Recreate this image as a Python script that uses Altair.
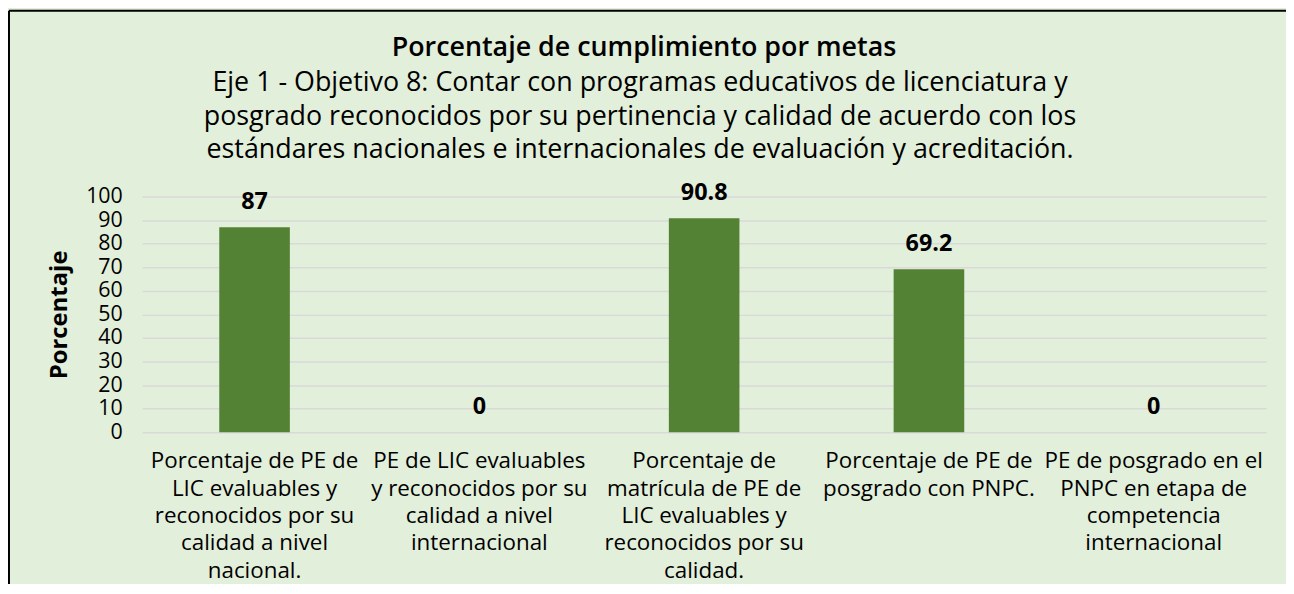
import altair as alt
import pandas as pd

categorias = [
    "Porcentaje de PE de|LIC evaluables y|reconocidos por su|calidad a nivel|nacional.",
    "PE de LIC evaluables|y reconocidos por su|calidad a nivel|internacional",
    "Porcentaje de|matrícula de PE de|LIC evaluables y|reconocidos por su|calidad.",
    "Porcentaje de PE de|posgrado con PNPC.",
    "PE de posgrado en el|PNPC en etapa de|competencia|internacional",
]
valores = [87, 0, 90.8, 69.2, 0]
ticks_y = [0, 10, 20, 30, 40, 50, 60, 70, 80, 90, 100]

titulo = "Porcentaje de cumplimiento por metas"
subtitulo = [
    "Eje 1 - Objetivo 8: Contar con programas educativos de licenciatura y",
    "posgrado reconocidos por su pertinencia y calidad de acuerdo con los",
    "estándares nacionales e internacionales de evaluación y acreditación.",
]

df = pd.DataFrame({"meta": categorias, "valor": valores})
one = pd.DataFrame({"k": [0]})

FONT = "Open Sans"
BG = "#E2EFDA"

x_enc = alt.X(
    "meta:N",
    sort=None,
    title=None,
    scale=alt.Scale(paddingInner=0.686, paddingOuter=0.343),
    axis=alt.Axis(
        labelAngle=0,
        labelExpr="split(datum.label, '|')",
        labelFontSize=22.5,
        labelLineHeight=27.5,
        labelLimit=0,
        labelColor="#000000",
        labelFont=FONT,
        labelPadding=18,
        ticks=False,
        domain=False,
        grid=False,
        labelBaseline="top",
    ),
)
y_enc = alt.Y(
    "valor:Q",
    title="Porcentaje",
    scale=alt.Scale(domain=[0, 100], nice=False),
    axis=alt.Axis(
        values=ticks_y,
        labelFontSize=21.5,
        labelFont=FONT,
        labelColor="#000000",
        labelPadding=20,
        ticks=False,
        domain=False,
        grid=True,
        gridColor="#D9D9D9",
        gridWidth=1.5,
        titleFont=FONT,
        titleFontSize=24,
        titleFontWeight="bold",
        titleColor="#000000",
        titlePadding=14,
    ),
)

base = alt.Chart(df)

bars = base.mark_bar(color="#548235").encode(x=x_enc, y=y_enc)

labels = base.mark_text(
    font=FONT, fontSize=23.5, fontWeight="bold", color="#000000",
    baseline="middle", dy=-25
).encode(x=x_enc, y=y_enc, text=alt.Text("valor:Q"))

# Chart title and subtitle lines (positioned relative to the plot area)
title_df = pd.DataFrame({"t": [titulo]})
title_layers = [
    alt.Chart(title_df).mark_text(
        font=FONT, fontSize=27, fontWeight=600, color="#000000",
        align="center", baseline="alphabetic"
    ).encode(x=alt.value(505), y=alt.value(-141), text=alt.Text("t:N"))
]
for i, linea in enumerate(subtitulo):
    sub_df = pd.DataFrame({"t": [linea]})
    title_layers.append(
        alt.Chart(sub_df).mark_text(
            font=FONT, fontSize=27, fontWeight="normal", color="#000000",
            align="center", baseline="alphabetic"
        ).encode(x=alt.value(501), y=alt.value(-106 + 33.5 * i), text=alt.Text("t:N"))
    )

border_top = alt.Chart(one).mark_rule(color="#000000", strokeWidth=2).encode(
    x=alt.value(-134), x2=alt.value(1200), y=alt.value(-187)
)
border_left = alt.Chart(one).mark_rule(color="#000000", strokeWidth=2).encode(
    x=alt.value(-134), y=alt.value(-187), y2=alt.value(500)
)

chart = (
    alt.layer(bars, labels, *title_layers, border_top, border_left)
    .properties(
        width=1131,
        height=237,
        background=BG,
        padding={"left": 135, "top": 188, "right": 20, "bottom": 151},
        autosize=alt.AutoSizeParams(type="none"),
    )
    .configure_view(stroke=None)
)

chart.save("out.html", embed_options={"renderer": "svg", "actions": False})
